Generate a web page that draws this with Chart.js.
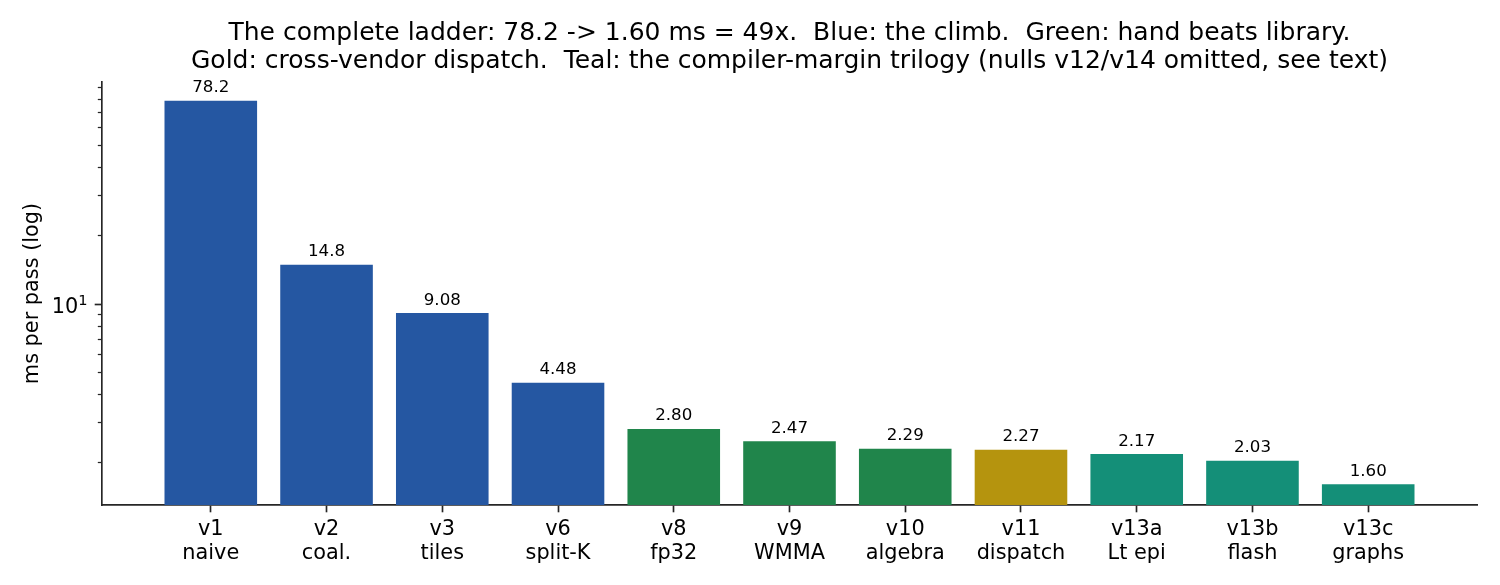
<!DOCTYPE html>
<html>
<head>
<meta charset="utf-8">
<script src="https://cdn.jsdelivr.net/npm/chart.js@4/dist/chart.umd.min.js"></script>
<style>
  html, body { margin: 0; padding: 0; background: #fff; }
  canvas { display: block; }
</style>
</head>
<body>
<canvas id="ladder" width="1500" height="585"></canvas>
<script>
// versions along the ladder
const versions = ['v1', 'v2', 'v3', 'v6', 'v8', 'v9', 'v10', 'v11', 'v13a', 'v13b', 'v13c'];
const nicknames = ['naive', 'coal.', 'tiles', 'split-K', 'fp32', 'WMMA', 'algebra', 'dispatch', 'Lt epi', 'flash', 'graphs'];
const msPerPass = [78.2, 14.8, 9.08, 4.48, 2.80, 2.47, 2.29, 2.27, 2.17, 2.03, 1.60];
const groups = ['climb', 'climb', 'climb', 'climb', 'hand', 'hand', 'hand', 'dispatch', 'compiler', 'compiler', 'compiler'];
const yMajorTicks = [10];
const yMinorTicks = [2, 3, 4, 5, 6, 7, 8, 9, 20, 30, 40, 50, 60, 70, 80, 90];

const groupColors = {
  climb: '#2557a2',
  hand: '#20854b',
  dispatch: '#b5940e',
  compiler: '#148f78'
};

const FONT = 'DejaVu Sans';
const AXIS = '#262626';

// tick marks + 10^1 label on the log axis, value labels on the bars
const overlay = {
  id: 'overlay',
  afterDraw(chart) {
    const ctx = chart.ctx;
    const y = chart.scales.y;
    const left = chart.chartArea.left;
    ctx.save();
    ctx.strokeStyle = AXIS;
    ctx.lineWidth = 1.25;
    yMinorTicks.forEach(v => {
      const py = Math.round(y.getPixelForValue(v)) + 0.5;
      ctx.beginPath(); ctx.moveTo(left, py); ctx.lineTo(left - 4.2, py); ctx.stroke();
    });
    ctx.lineWidth = 1.67;
    yMajorTicks.forEach(v => {
      const py = Math.round(y.getPixelForValue(v)) + 0.5;
      ctx.beginPath(); ctx.moveTo(left, py); ctx.lineTo(left - 7.3, py); ctx.stroke();
      // 10 with superscript exponent
      const exp = String(Math.round(Math.log10(v)));
      ctx.fillStyle = '#000';
      ctx.textBaseline = 'alphabetic';
      ctx.textAlign = 'right';
      ctx.font = '14.6px "' + FONT + '"';
      const ew = ctx.measureText(exp).width;
      ctx.fillText(exp, left - 14.5, py);
      ctx.font = '20.83px "' + FONT + '"';
      ctx.fillText('10', left - 14.5 - ew, py + 8.5);
    });

    const meta = chart.getDatasetMeta(0);
    ctx.fillStyle = '#000';
    ctx.font = '16.67px "' + FONT + '"';
    ctx.textAlign = 'center';
    ctx.textBaseline = 'alphabetic';
    meta.data.forEach((bar, i) => {
      ctx.fillText(msPerPass[i].toPrecision(3), bar.x, bar.y - 8.5);
    });
    ctx.restore();
  }
};

new Chart(document.getElementById('ladder'), {
  type: 'bar',
  data: {
    datasets: [{
      data: msPerPass.map((v, i) => ({ x: i, y: v })),
      backgroundColor: groups.map(g => groupColors[g]),
      borderWidth: 0,
      categoryPercentage: 1.0,
      barPercentage: 0.8
    }]
  },
  options: {
    responsive: false,
    animation: false,
    devicePixelRatio: 1,
    layout: { padding: { left: 0, right: 23, top: 0, bottom: 0 } },
    plugins: {
      legend: { display: false },
      tooltip: { enabled: false },
      title: {
        display: true,
        fullSize: false,
        text: [
          'The complete ladder: 78.2 -> 1.60 ms = 49x.  Blue: the climb.  Green: hand beats library.',
          'Gold: cross-vendor dispatch.  Teal: the compiler-margin trilogy (nulls v12/v14 omitted, see text)'
        ],
        color: '#000',
        font: { family: FONT, size: 25, weight: 'normal', lineHeight: '28px' },
        padding: { top: 19, bottom: 7 }
      }
    },
    scales: {
      x: {
        type: 'linear',
        offset: false,
        min: -0.94,
        max: 10.94,
        afterBuildTicks: axis => { axis.ticks = versions.map((_, i) => ({ value: i })); },
        afterFit: axis => { axis.height = 80; },
        ticks: {
          autoSkip: false,
          maxRotation: 0,
          color: '#000',
          font: { family: FONT, size: 20.83, lineHeight: '23.5px' },
          padding: 6,
          callback: v => [versions[v], nicknames[v]]
        },
        grid: {
          display: true,
          offset: false,
          drawOnChartArea: false,
          drawTicks: true,
          tickLength: 7.3,
          tickColor: AXIS,
          tickWidth: 1.67
        },
        border: { display: true, color: AXIS, width: 1.67 }
      },
      y: {
        type: 'logarithmic',
        min: 1.295,
        max: 94.6,
        afterFit: axis => { axis.width = 102; },
        ticks: { display: false },
        grid: { display: false },
        border: { display: true, color: AXIS, width: 1.67 },
        title: {
          display: true,
          text: 'ms per pass (log)',
          color: '#000',
          font: { family: FONT, size: 20.83, lineHeight: 1.2 },
          padding: { top: 20, bottom: 0 }
        }
      }
    }
  },
  plugins: [overlay]
});
</script>
</body>
</html>
